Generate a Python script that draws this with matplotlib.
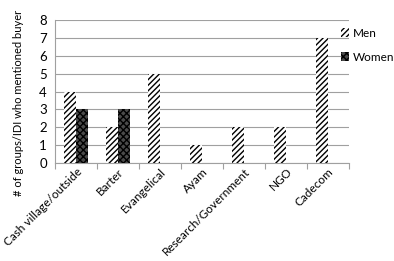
import matplotlib
matplotlib.use("Agg")
import matplotlib.pyplot as plt
import numpy as np

categories = ["Cash village/outside", "Barter", "Evangelical", "Ayam",
              "Research/Government", "NGO", "Cadecom"]
men = [4, 2, 5, 1, 2, 2, 7]
women = [3, 3, 0, 0, 0, 0, 0]

plt.rcParams['font.family'] = ['Lato', 'DejaVu Sans']
plt.rcParams['hatch.linewidth'] = 1.0

fig = plt.figure(figsize=(3.94, 2.61), dpi=100)
ax = fig.add_axes([0.14, 0.375, 0.746, 0.548])

x = np.arange(len(categories))
w = 0.29
ax.bar(x - w/2, men, w, color='white', edgecolor='black', hatch='//////', linewidth=0, label='Men', zorder=3)
ax.bar(x + w/2, women, w, color='#4a4a4a', edgecolor='black', hatch='xxxxx', linewidth=0, label='Women', zorder=3)

ax.set_xlim(-0.5, len(categories) - 0.5)
ax.set_ylim(0, 8)
ax.set_yticks(range(0, 9))
ax.yaxis.grid(True, color='#a0a0a0', linewidth=0.8, zorder=0)
ax.set_axisbelow(True)
for s in ['top', 'right']:
    ax.spines[s].set_visible(False)
ax.spines['left'].set_color('#a0a0a0')
ax.spines['bottom'].set_color('#a0a0a0')
ax.tick_params(axis='y', length=0, labelsize=9.5, pad=6)
ax.set_xticks(np.arange(-0.5, len(categories) + 0.5, 1), minor=False)
ax.set_xticklabels([])
ax.set_xticks(x, minor=True)
ax.set_xticklabels(categories, minor=True, rotation=45, ha='right', rotation_mode='anchor', fontsize=8.5)
ax.tick_params(axis='x', which='major', length=4, color='#a0a0a0')
ax.tick_params(axis='x', which='minor', length=0, pad=2)
ax.set_ylabel("# of groups/IDI who mentioned buyer", fontsize=8, labelpad=6)
ax.yaxis.set_label_coords(-0.105, 0.42)

ax.legend(loc='upper left', bbox_to_anchor=(0.955, 0.98), frameon=False, fontsize=8.5,
          handlelength=0.7, handleheight=0.7, handletextpad=0.3, labelspacing=1.1, borderaxespad=0)

fig.savefig("out.png", dpi=100)
